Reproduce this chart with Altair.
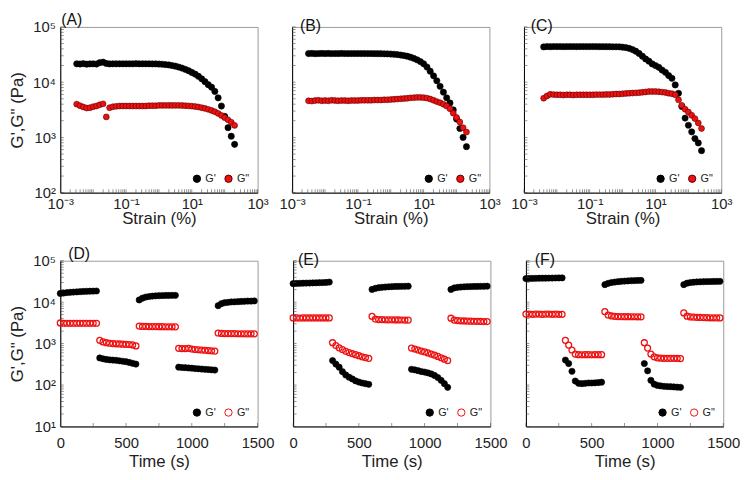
import altair as alt
import pandas as pd

FONT = "Liberation Sans"
SERIES = ["G'", 'G"']

# ---------------- strain sweeps (A-C) ----------------
strain_ab = [0.00316, 0.00398, 0.00501, 0.00631, 0.00794,
             0.01, 0.0126, 0.0158, 0.02, 0.0251, 0.0316, 0.0398, 0.0501, 0.0631, 0.0794,
             0.1, 0.126, 0.158, 0.2, 0.251, 0.316, 0.398, 0.501, 0.631, 0.794,
             1, 1.26, 1.58, 2, 2.51, 3.16, 3.98, 5.01, 6.31, 7.94,
             10, 12.6, 15.8, 20, 25.1, 31.6, 39.8, 50.1, 63.1, 79.4,
             100, 126, 158, 200]
strain_c = [0.00398, 0.00501, 0.00631, 0.00794,
            0.01, 0.0126, 0.0158, 0.02, 0.0251, 0.0316, 0.0398, 0.0501, 0.0631, 0.0794,
            0.1, 0.126, 0.158, 0.2, 0.251, 0.316, 0.398, 0.501, 0.631, 0.794,
            1, 1.26, 1.58, 2, 2.51, 3.16, 3.98, 5.01, 6.31, 7.94,
            10, 12.6, 15.8, 20, 25.1, 31.6, 39.8, 50.1, 63.1, 79.4,
            100, 126, 158, 200, 251]

a_gp = [21500, 21300, 21600, 21200, 21400,
        21500, 21300, 22500, 23000, 21800, 21400, 21500, 21500, 21500, 21500,
        21500, 21500, 21500, 21600, 21500, 21500, 21500, 21500, 21400, 21400,
        21300, 21100, 20800, 20500, 20000, 19500, 18800, 18000, 17100, 16100,
        15000, 14000, 12800, 11500, 10200, 9000, 8100, 6800, 5200, 3700,
        2400, 1500, 1050, 750]
a_gpp = [4000, 3750, 3550, 3400, 3450,
         3600, 3700, 3900, 4050, 2350, 3450, 3600, 3650, 3700, 3700,
         3700, 3700, 3700, 3700, 3700, 3700, 3700, 3750, 3750, 3750,
         3800, 3800, 3800, 3800, 3800, 3800, 3800, 3780, 3750, 3720,
         3680, 3620, 3550, 3450, 3350, 3220, 3080, 2920, 2720, 2500,
         2280, 2080, 1880, 1650]

b_gp = [33000, 33200, 32800, 33000, 33100,
        33000, 33100, 32900, 33000, 33000, 33100, 33000, 32900, 33000, 33000,
        33000, 33000, 33000, 32900, 32900, 32800, 32800, 32700, 32600, 32500,
        32300, 32000, 31600, 31000, 30300, 29500, 28300, 27000, 25400, 23600,
        21500, 18800, 15800, 13000, 10600, 8400, 6600, 5200, 4200, 3150,
        2150, 1450, 1000, 680]
b_gpp = [4600, 4550, 4650, 4700, 4600,
         4650, 4600, 4700, 4650, 4600, 4650, 4650, 4600, 4650, 4650,
         4650, 4700, 4700, 4700, 4700, 4750, 4750, 4750, 4800, 4800,
         4850, 4900, 4950, 5000, 5050, 5100, 5200, 5250, 5300, 5300,
         5250, 5150, 4950, 4700, 4450, 4250, 3980, 3700, 3300, 2750,
         2300, 1900, 1500, 1250]

c_gp = [43500, 44000, 43800, 44200,
        44000, 44100, 43900, 44000, 44000, 44100, 43900, 44000, 44000, 44000,
        44000, 44000, 44000, 43900, 43900, 43800, 43800, 43700, 43700, 43600,
        43000, 42200, 41000, 38900, 36300, 33100, 29500, 26300, 24000, 21400,
        19950, 18600, 16600, 15100, 13200, 11750, 8900, 6300, 3630, 2240,
        1660, 1260, 955, 794, 575]
c_gpp = [5130, 5620, 6030, 5950,
         5900, 5900, 5850, 5900, 5900, 5850, 5900, 5900, 5900, 5900,
         5900, 5900, 5950, 5950, 5950, 6000, 6000, 6050, 6100, 6100,
         6170, 6250, 6300, 6350, 6400, 6460, 6550, 6650, 6760, 6760,
         6760, 6700, 6610, 6500, 6310, 6170, 5900, 4790, 3800, 3240,
         2880, 2510, 2190, 1820, 1450]

# ---------------- step-strain time sweeps (D-F) ----------------
time_s = [0, 25, 50, 75, 100, 125, 150, 175, 200, 225, 250, 275,
          300, 325, 350, 375, 400, 425, 450, 475, 500, 525, 550, 575,
          600, 625, 650, 675, 700, 725, 750, 775, 800, 825, 850, 875,
          900, 925, 950, 975, 1000, 1025, 1050, 1075, 1100, 1125, 1150, 1175,
          1200, 1225, 1250, 1275, 1300, 1325, 1350, 1375, 1400, 1425, 1450, 1475]

d_gp = [16200, 16600, 17000, 17300, 17500, 17700, 17900, 18100, 18300, 18400, 18500, 18600,
        450, 430, 415, 405, 400, 395, 385, 375, 365, 350, 335, 320,
        11300, 12500, 13300, 13700, 14000, 14200, 14300, 14400, 14500, 14500, 14600, 14600,
        270, 265, 262, 258, 255, 250, 247, 243, 240, 237, 233, 230,
        8200, 9200, 9700, 9900, 10100, 10200, 10300, 10400, 10500, 10600, 10600, 10700]
d_gpp = [3150, 3100, 3100, 3100, 3100, 3100, 3100, 3100, 3100, 3100, 3100, 3100,
         1200, 1100, 1050, 1020, 1000, 990, 980, 970, 960, 950, 930, 880,
         2650, 2600, 2600, 2580, 2580, 2570, 2560, 2560, 2550, 2550, 2540, 2540,
         770, 760, 760, 770, 740, 720, 710, 700, 690, 680, 670, 660,
         1800, 1760, 1750, 1740, 1740, 1740, 1730, 1730, 1730, 1720, 1720, 1720]

e_gp = [28000, 28300, 28500, 28700, 28900, 29000, 29200, 29400, 29500, 29700, 29900, 30500,
        390, 320, 270, 210, 175, 155, 140, 126, 118, 112, 108, 104,
        20300, 21500, 22300, 22800, 23200, 23500, 23700, 23900, 24000, 24100, 24200, 24300,
        240, 232, 222, 212, 205, 196, 185, 170, 152, 130, 108, 88,
        20300, 22000, 22800, 23200, 23500, 23700, 23800, 23900, 24000, 24100, 24200, 24300]
e_gpp = [4170, 4170, 4150, 4170, 4170, 4160, 4170, 4170, 4160, 4170, 4170, 4170,
         1050, 900, 790, 720, 650, 610, 570, 540, 510, 480, 460, 440,
         4540, 3900, 3800, 3780, 3760, 3750, 3740, 3730, 3720, 3710, 3700, 3700,
         780, 740, 700, 660, 630, 595, 560, 525, 490, 455, 420, 390,
         4100, 3700, 3600, 3550, 3520, 3500, 3480, 3460, 3440, 3420, 3400, 3400]

f_gp = [37000, 37300, 37500, 37700, 37800, 37900, 38000, 38100, 38200, 38300, 38400, 38500,
        400, 330, 215, 125, 110, 108, 110, 112, 112, 113, 115, 117,
        26500, 28500, 29800, 30500, 31200, 31800, 32200, 32600, 32900, 33200, 33400, 33600,
        330, 220, 130, 105, 98, 95, 93, 92, 91, 90, 89, 88,
        26500, 28800, 29800, 30300, 30700, 31000, 31200, 31400, 31500, 31600, 31700, 31800]
f_gpp = [5150, 5150, 5100, 5150, 5150, 5100, 5150, 5150, 5100, 5150, 5100, 5100,
         1200, 920, 700, 560, 540, 535, 540, 540, 535, 540, 540, 540,
         5900, 4900, 4650, 4550, 4500, 4480, 4460, 4460, 4450, 4450, 4440, 4440,
         1050, 780, 560, 480, 450, 445, 440, 440, 440, 440, 438, 435,
         5500, 4600, 4400, 4350, 4300, 4280, 4250, 4230, 4200, 4200, 4180, 4170]

# ---------------- axis ticks / labels ----------------
strain_major = [0.001, 0.1, 10, 1000]
strain_major_labels = ["10\u207b\u00b3", "10\u207b\u00b9", "10\u00b9", "10\u00b3"]
modulus_top_major = [100, 1000, 10000, 100000]
modulus_top_labels = ["10\u00b2", "10\u00b3", "10\u2074", "10\u2075"]
modulus_bot_major = [10, 100, 1000, 10000, 100000]
modulus_bot_labels = ["10\u00b9", "10\u00b2", "10\u00b3", "10\u2074", "10\u2075"]
time_major = [0, 500, 1000, 1500]
time_ticks = [0, 250, 500, 750, 1000, 1250, 1500]
minor_mult = [1, 2, 3, 4, 5, 6, 7, 8, 9]


def log_ticks(lo_exp, hi_exp):
    vals = [m * 10.0 ** e for e in range(lo_exp, hi_exp) for m in minor_mult]
    return vals + [10.0 ** hi_exp]


def label_expr(values, labels):
    expr = "''"
    for v, l in reversed(list(zip(values, labels))):
        expr = f"datum.value == {v} ? '{l}' : ({expr})"
    return expr


W, H = 200, 168
TICK = 3.5


def make_df(x, gp, gpp):
    return pd.DataFrame({
        "x": list(x) + list(x),
        "y": list(gp) + list(gpp),
        "series": [SERIES[0]] * len(x) + [SERIES[1]] * len(x),
        "k": [0] * len(x) + [1] * len(x),
    })


def panel(df, kind, title, show_y, dx):
    common_x = dict(ticks=False, grid=False, labelFlush=False, labelOverlap=False)
    if kind == "strain":
        xscale = alt.Scale(type="log", domain=[0.001, 1000], nice=False)
        xlab = alt.Axis(values=strain_major, labelExpr=label_expr(strain_major, strain_major_labels),
                        title="Strain (%)", labelPadding=4, titlePadding=-1, **common_x)
        xtick_vals = log_ticks(-3, 3)
        yscale = alt.Scale(type="log", domain=[100, 100000], nice=False)
        ymaj, ylabs = modulus_top_major, modulus_top_labels
        ytick_vals = log_ticks(2, 5)
        fill_range = ["#000000", "#ee1111"]
        stroke_range = ["#000000", "#5a0000"]
        sw2 = 0.6
    else:
        xscale = alt.Scale(domain=[0, 1500], nice=False)
        xlab = alt.Axis(values=time_major, format="d", title="Time (s)",
                        labelPadding=9, titlePadding=4, **common_x)
        xtick_vals = time_ticks
        yscale = alt.Scale(type="log", domain=[10, 100000], nice=False)
        ymaj, ylabs = modulus_bot_major, modulus_bot_labels
        ytick_vals = log_ticks(1, 5)
        fill_range = ["#000000", "transparent"]
        stroke_range = ["#000000", "#ee1111"]
        sw2 = 1.3

    if show_y:
        ylab = alt.Axis(values=ymaj, labelExpr=label_expr(ymaj, ylabs), title="G',G\" (Pa)",
                        ticks=False, grid=False, labelPadding=5, titlePadding=6, labelOverlap=False)
    else:
        ylab = alt.Axis(values=ymaj, labels=False, ticks=False, grid=False, title=None)

    legend = alt.Legend(orient="bottom-right", direction="horizontal", title=None,
                        labelFontSize=11, labelFont=FONT, symbolSize=55, symbolStrokeWidth=1,
                        offset=8, columnPadding=6, labelOffset=3, padding=0)
    fill = alt.Fill("series:N", scale=alt.Scale(domain=SERIES, range=fill_range), legend=legend)
    stroke = alt.Stroke("series:N", scale=alt.Scale(domain=SERIES, range=stroke_range), legend=legend)

    base = alt.Chart(df)
    gp = base.transform_filter("datum.k == 0").mark_circle(size=40, opacity=1, strokeWidth=0.6).encode(
        x=alt.X("x:Q", scale=xscale, axis=xlab),
        y=alt.Y("y:Q", scale=yscale, axis=ylab),
        fill=fill, stroke=stroke,
    )
    gpp = base.transform_filter("datum.k == 1").mark_circle(size=36, opacity=1, strokeWidth=sw2).encode(
        x=alt.X("x:Q", scale=xscale, axis=xlab),
        y=alt.Y("y:Q", scale=yscale, axis=ylab),
        fill=fill, stroke=stroke,
    )
    # inward minor/major ticks along the bottom and left frame edges
    xticks = alt.Chart(pd.DataFrame({"x": xtick_vals})).mark_tick(
        orient="vertical", size=TICK, thickness=0.8, color="#444", yOffset=-TICK / 2
    ).encode(x=alt.X("x:Q", scale=xscale, axis=xlab), y=alt.value(H))
    yticks = alt.Chart(pd.DataFrame({"y": ytick_vals})).mark_tick(
        orient="horizontal", size=TICK, thickness=0.8, color="#444", xOffset=TICK / 2
    ).encode(y=alt.Y("y:Q", scale=yscale, axis=ylab), x=alt.value(0))

    return alt.layer(gp, gpp, xticks, yticks).properties(
        width=W, height=H,
        title=alt.TitleParams(title, anchor="start", frame="group", fontSize=16, font=FONT,
                              fontWeight="normal", offset=-8, dx=dx, color="#111"),
    )


pA = panel(make_df(strain_ab, a_gp, a_gpp), "strain", "(A)", True, 1)
pB = panel(make_df(strain_ab, b_gp, b_gpp), "strain", "(B)", False, 8)
pC = panel(make_df(strain_c, c_gp, c_gpp), "strain", "(C)", False, 7)
pD = panel(make_df(time_s, d_gp, d_gpp), "time", "(D)", True, 8)
pE = panel(make_df(time_s, e_gp, e_gpp), "time", "(E)", False, 5)
pF = panel(make_df(time_s, f_gp, f_gpp), "time", "(F)", False, 9)

top = alt.hconcat(pA, pB, pC, spacing=9).resolve_scale(fill="independent", stroke="independent")
bot = alt.hconcat(pD, pE, pF, spacing=11).resolve_scale(fill="independent", stroke="independent")

chart = alt.vconcat(top, bot, spacing=18).resolve_scale(
    fill="independent", stroke="independent"
).properties(padding=0).configure_axis(
    labelFont=FONT, titleFont=FONT, labelFontSize=15, titleFontSize=17,
    labelColor="#222", titleColor="#222", titleFontWeight="normal",
    domainColor="#000", domainWidth=1,
).configure_view(stroke="#999", strokeWidth=1).configure_legend(
    labelColor="#222"
)

chart.save("out.html", embed_options={"renderer": "svg", "actions": False})
